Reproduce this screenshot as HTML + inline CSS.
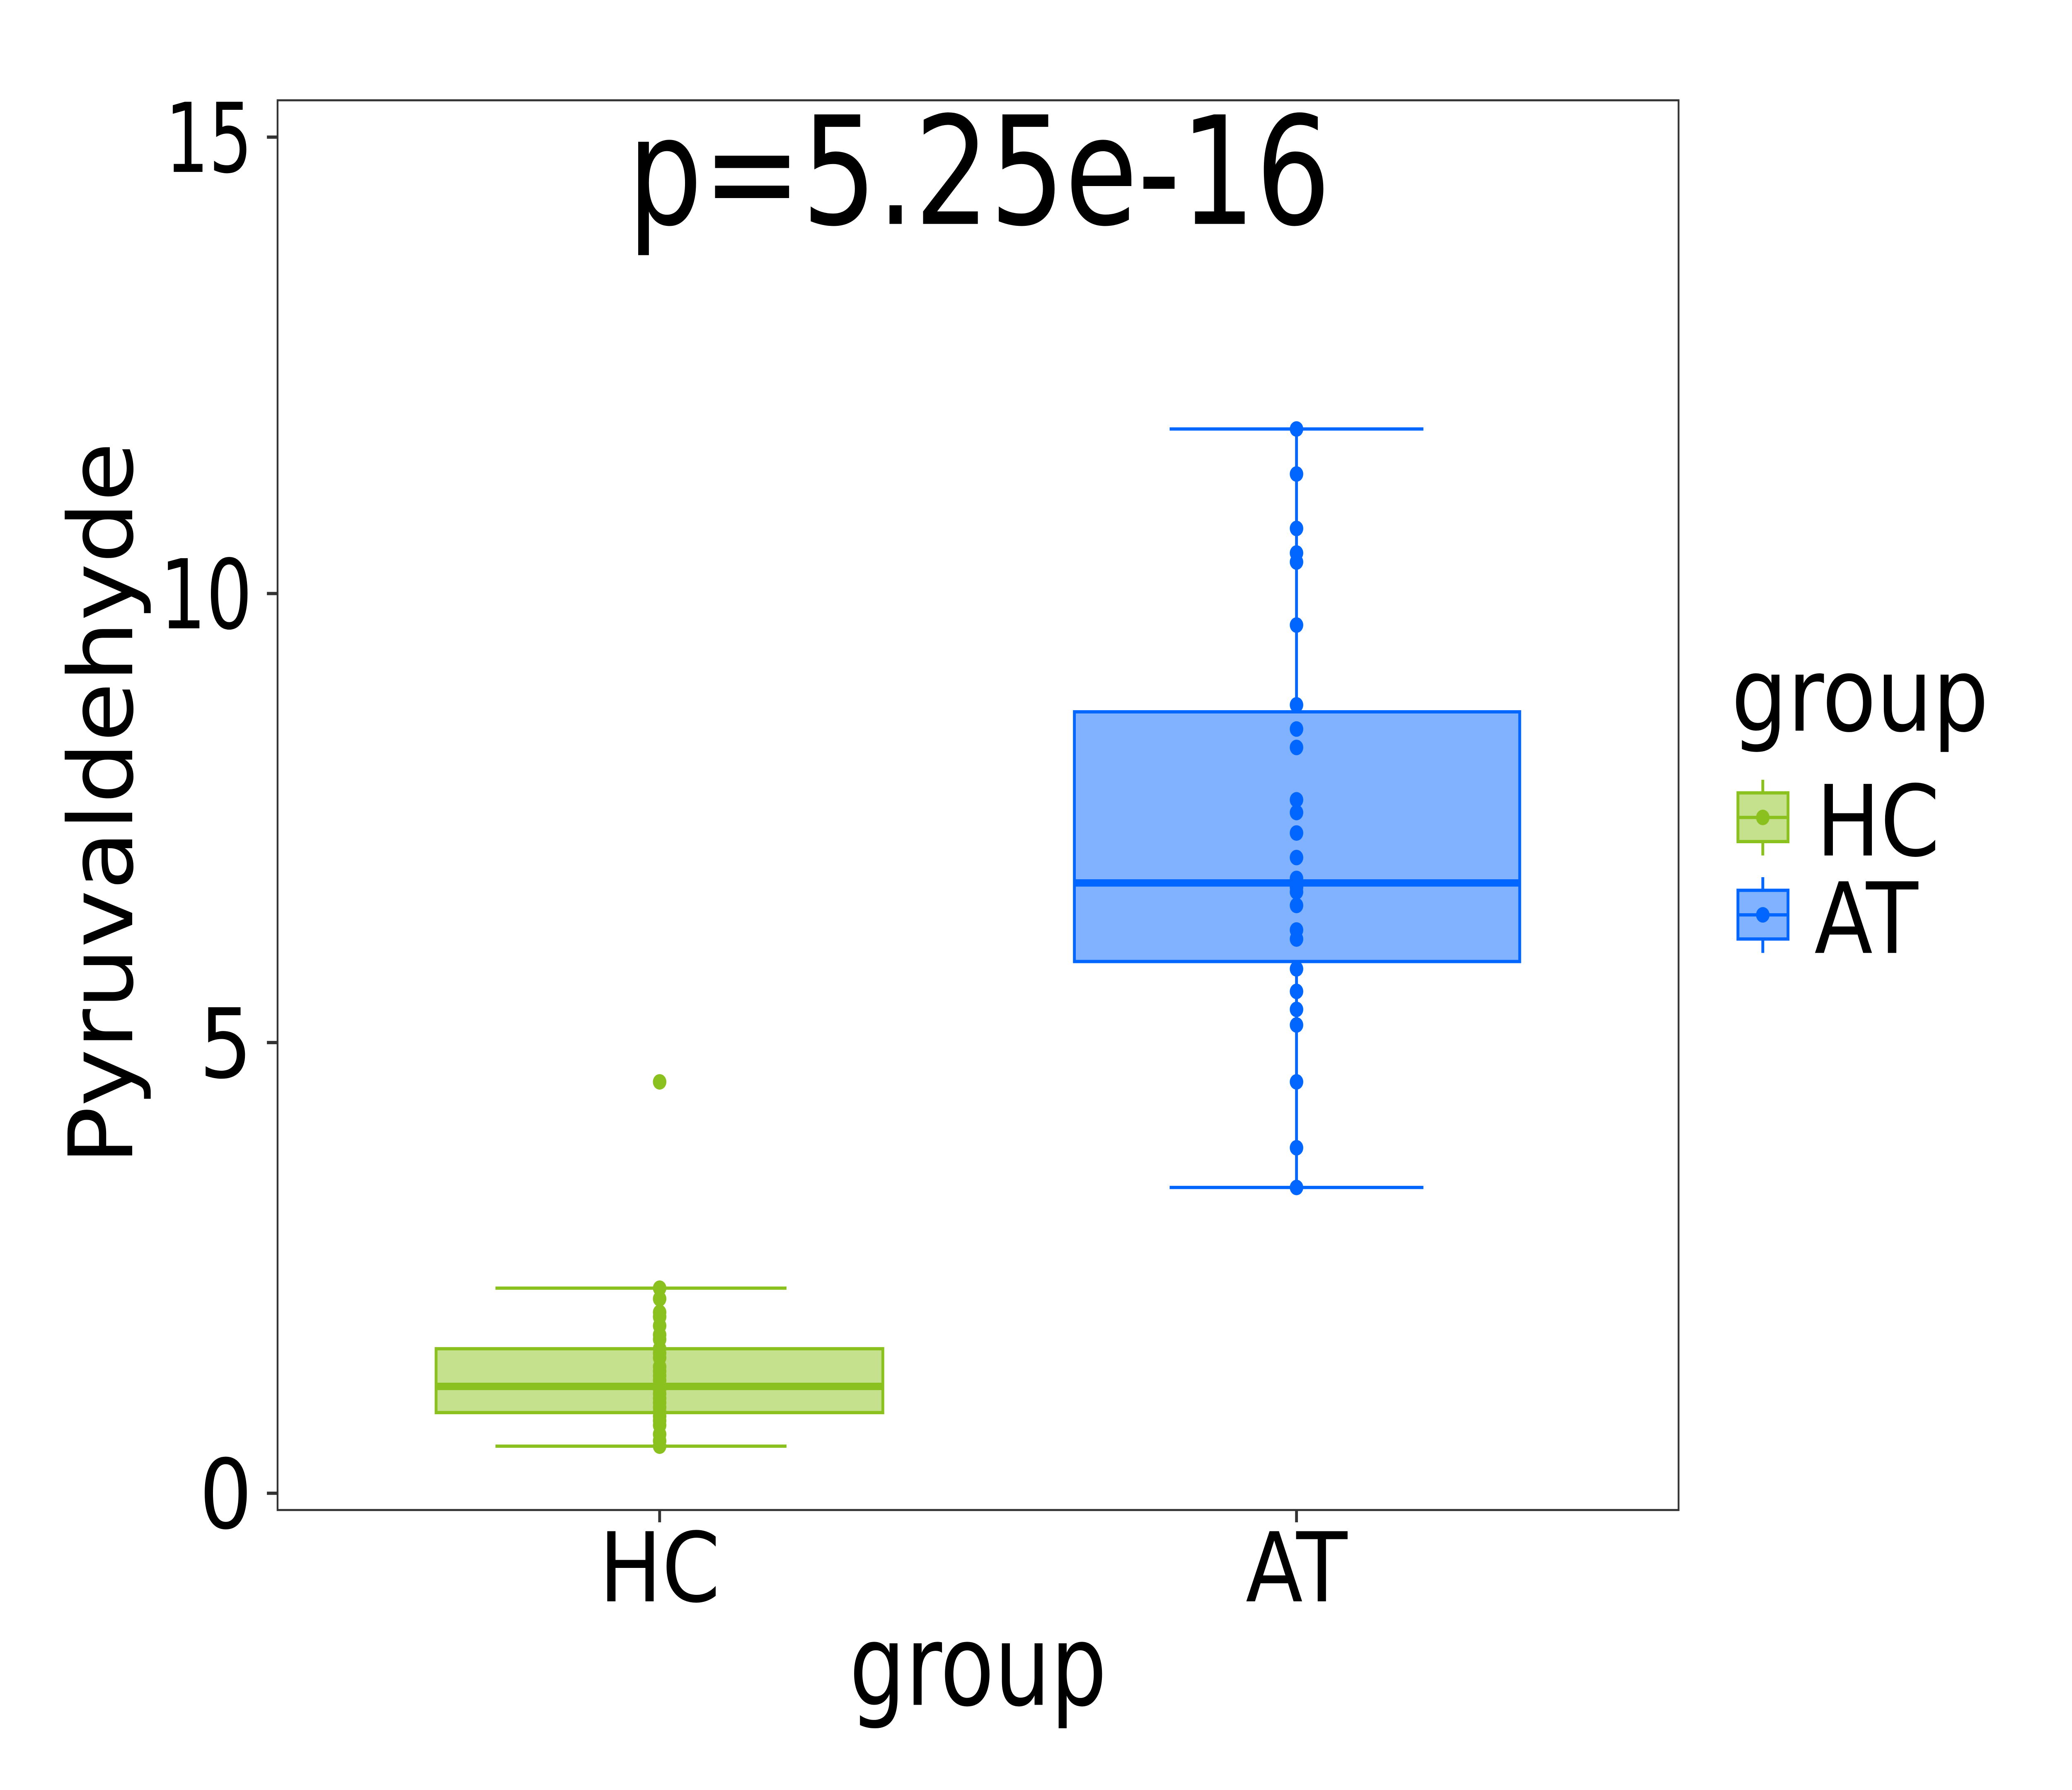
<!DOCTYPE html>
<html><head><meta charset="utf-8"><style>html,body{margin:0;padding:0;background:#fff;width:100%;height:100%;overflow:hidden}svg{display:block;width:100vw;height:100vh}</style></head>
<body>
<svg viewBox="0 0 5830 4373" preserveAspectRatio="none" xmlns="http://www.w3.org/2000/svg" font-family="DejaVu Sans, Liberation Sans, sans-serif">
<rect width="5830" height="4373" fill="#fff"/>
<g stroke="#8BC11E" stroke-width="8" fill="none">
<line x1="1856" y1="3147" x2="1856" y2="3295"/>
<line x1="1856" y1="3451" x2="1856" y2="3533"/>
<line x1="1394" y1="3147" x2="2213" y2="3147"/>
<line x1="1394" y1="3533" x2="2213" y2="3533"/>
<rect x="1227" y="3295" width="1257" height="156" fill="#C6E18E"/>
<line x1="1227" y1="3387" x2="2484" y2="3387" stroke-width="18"/>
</g>
<g fill="#8BC11E">
<circle cx="1856" cy="3533" r="19"/><circle cx="1856" cy="3520" r="19"/><circle cx="1856" cy="3504" r="19"/><circle cx="1856" cy="3482" r="19"/><circle cx="1856" cy="3471" r="19"/><circle cx="1856" cy="3460" r="19"/><circle cx="1856" cy="3449" r="19"/><circle cx="1856" cy="3438" r="19"/><circle cx="1856" cy="3427" r="19"/><circle cx="1856" cy="3416" r="19"/><circle cx="1856" cy="3405" r="19"/><circle cx="1856" cy="3394" r="19"/><circle cx="1856" cy="3383" r="19"/><circle cx="1856" cy="3372" r="19"/><circle cx="1856" cy="3361" r="19"/><circle cx="1856" cy="3350" r="19"/><circle cx="1856" cy="3339" r="19"/><circle cx="1856" cy="3317" r="19"/><circle cx="1856" cy="3306" r="19"/><circle cx="1856" cy="3295" r="19"/><circle cx="1856" cy="3272" r="19"/><circle cx="1856" cy="3261" r="19"/><circle cx="1856" cy="3239" r="19"/><circle cx="1856" cy="3217" r="19"/><circle cx="1856" cy="3206" r="19"/><circle cx="1856" cy="3173" r="19"/><circle cx="1856" cy="3147" r="19"/><circle cx="1856" cy="2643" r="19"/>
</g>
<g stroke="#0066FF" stroke-width="8" fill="none">
<line x1="3648" y1="1048" x2="3648" y2="1739"/>
<line x1="3648" y1="2349" x2="3648" y2="2901"/>
<line x1="3291" y1="1048" x2="4005" y2="1048"/>
<line x1="3291" y1="2901" x2="4005" y2="2901"/>
<rect x="3023" y="1739" width="1253" height="610" fill="#80B2FF"/>
<line x1="3023" y1="2157" x2="4276" y2="2157" stroke-width="18"/>
</g>
<g fill="#0066FF">
<circle cx="3648" cy="1048" r="19"/><circle cx="3648" cy="1158" r="19"/><circle cx="3648" cy="1291" r="19"/><circle cx="3648" cy="1351" r="19"/><circle cx="3648" cy="1373" r="19"/><circle cx="3648" cy="1527" r="19"/><circle cx="3648" cy="1722" r="19"/><circle cx="3648" cy="1781" r="19"/><circle cx="3648" cy="1826" r="19"/><circle cx="3648" cy="1954" r="19"/><circle cx="3648" cy="1985" r="19"/><circle cx="3648" cy="2035" r="19"/><circle cx="3648" cy="2095" r="19"/><circle cx="3648" cy="2146" r="19"/><circle cx="3648" cy="2168" r="19"/><circle cx="3648" cy="2179" r="19"/><circle cx="3648" cy="2212" r="19"/><circle cx="3648" cy="2272" r="19"/><circle cx="3648" cy="2294" r="19"/><circle cx="3648" cy="2367" r="19"/><circle cx="3648" cy="2422" r="19"/><circle cx="3648" cy="2466" r="19"/><circle cx="3648" cy="2504" r="19"/><circle cx="3648" cy="2643" r="19"/><circle cx="3648" cy="2804" r="19"/><circle cx="3648" cy="2901" r="19"/>
</g>
<rect x="781" y="245" width="3942" height="3444" fill="none" stroke="#333" stroke-width="5"/>
<g stroke="#333" stroke-width="8">
<line x1="751" y1="335" x2="781" y2="335"/><line x1="751" y1="1450" x2="781" y2="1450"/><line x1="751" y1="2547" x2="781" y2="2547"/><line x1="751" y1="3648" x2="781" y2="3648"/>
<line x1="1856" y1="3689" x2="1856" y2="3719"/><line x1="3648" y1="3689" x2="3648" y2="3719"/>
</g>
<g font-size="235" fill="#000" text-anchor="end">
<text x="710" y="420" textLength="245" lengthAdjust="spacingAndGlyphs">15</text><text x="710" y="1535" textLength="260" lengthAdjust="spacingAndGlyphs">10</text><text x="710" y="2632">5</text><text x="710" y="3733">0</text>
</g>
<g font-size="235" fill="#000" text-anchor="middle">
<text x="1856" y="3912">HC</text><text x="3648" y="3912">AT</text>
</g>
<text x="2752" y="4165" font-size="275" text-anchor="middle" textLength="725" lengthAdjust="spacingAndGlyphs">group</text>
<text transform="translate(372,1963) rotate(-90)" font-size="250" text-anchor="middle" textLength="1766" lengthAdjust="spacingAndGlyphs">Pyruvaldehyde</text>
<text x="2755" y="547" font-size="367" text-anchor="middle" textLength="1979" lengthAdjust="spacingAndGlyphs">p=5.25e-16</text>
<text x="4871" y="1785" font-size="250" textLength="725" lengthAdjust="spacingAndGlyphs">group</text>
<g stroke="#8BC11E" stroke-width="8">
<line x1="4960" y1="1905" x2="4960" y2="2090"/>
<rect x="4890" y="1937" width="141" height="119" fill="#C6E18E"/>
<line x1="4890" y1="1997" x2="5031" y2="1997"/>
</g>
<circle cx="4960" cy="1997" r="19" fill="#8BC11E"/>
<g stroke="#0066FF" stroke-width="8">
<line x1="4960" y1="2143" x2="4960" y2="2328"/>
<rect x="4890" y="2175" width="141" height="119" fill="#80B2FF"/>
<line x1="4890" y1="2235" x2="5031" y2="2235"/>
</g>
<circle cx="4960" cy="2235" r="19" fill="#0066FF"/>
<text x="5110" y="2090" font-size="240">HC</text>
<text x="5105" y="2328" font-size="240">AT</text>
</svg>
</body></html>
